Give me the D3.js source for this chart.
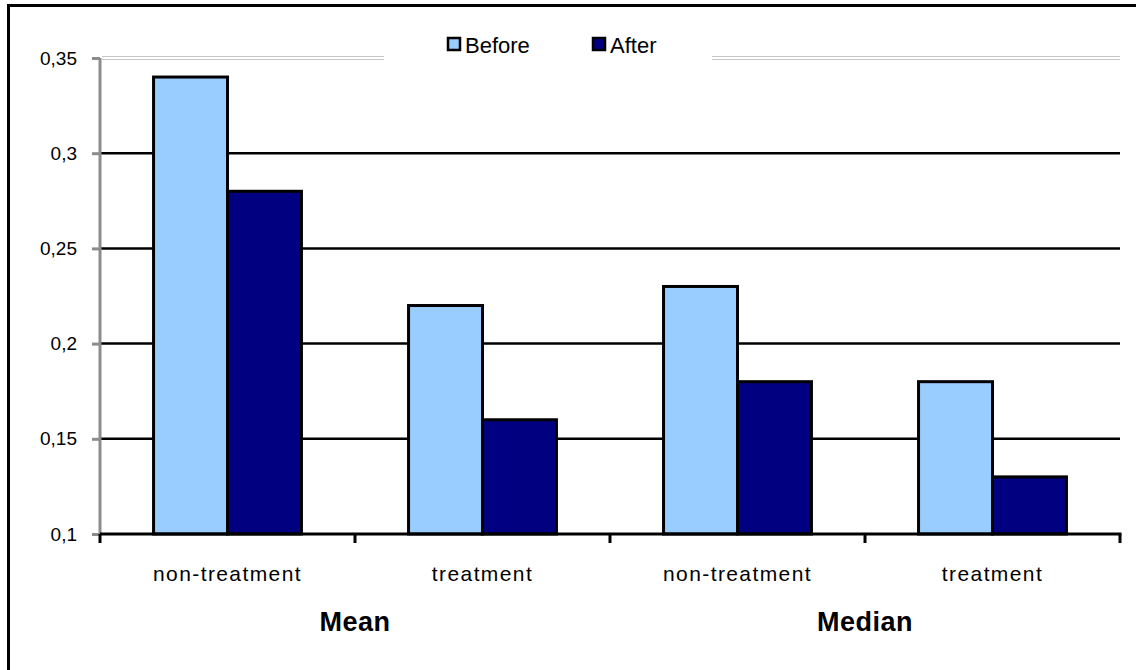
<!DOCTYPE html>
<html>
<head>
<meta charset="utf-8">
<script src="https://cdn.jsdelivr.net/npm/d3@7"></script>
<style>
  html, body { margin: 0; padding: 0; background: #fff; }
  svg { display: block; font-family: "Liberation Sans", Arial, sans-serif; }
</style>
</head>
<body>
<svg id="chart" width="1136" height="670"></svg>
<script>
// Category labels, grouped by statistic
const categories = ["non-treatment", "treatment", "non-treatment", "treatment"];
const groups = ["Mean", "Median"];
const series = ["Before", "After"];
const beforeValues = [0.34, 0.22, 0.23, 0.18];
const afterValues = [0.28, 0.16, 0.18, 0.13];
const yTicks = [0.1, 0.15, 0.2, 0.25, 0.3, 0.35];
const colors = ["#99CCFF", "#000080"];

const svg = d3.select("#chart");
const plot = { left: 100, right: 1120, top: 58, bottom: 534 };

// Outer frame (only the top and left edges fall inside the canvas)
svg.append("rect")
  .attr("x", 8.5).attr("y", 5.5)
  .attr("width", 1140).attr("height", 680)
  .attr("fill", "none").attr("stroke", "#000").attr("stroke-width", 3);

const x = d3.scaleBand()
  .domain(d3.range(categories.length))
  .range([plot.left, plot.right])
  .paddingInner(0.42)
  .paddingOuter(0.21);

const xSub = d3.scaleBand()
  .domain(series)
  .range([0, x.bandwidth()]);

const y = d3.scaleLinear()
  .domain([0.1, 0.35])
  .range([plot.bottom, plot.top]);

const fmt = v => d3.format(".2~f")(v).replace(".", ",");

// Horizontal gridlines (top one is a light double rule)
yTicks.slice(1, -1).forEach(t => {
  svg.append("line")
    .attr("x1", plot.left).attr("x2", plot.right)
    .attr("y1", y(t)).attr("y2", y(t))
    .attr("stroke", "#000").attr("stroke-width", 2.5);
});
[-1.5, 1.5].forEach(off => {
  svg.append("line")
    .attr("x1", plot.left + 2).attr("x2", plot.right)
    .attr("y1", y(0.35) + off).attr("y2", y(0.35) + off)
    .attr("stroke", "#c8c8c8").attr("stroke-width", 1);
});

// Bars
const data = categories.map((c, i) => ({ i, values: [beforeValues[i], afterValues[i]] }));
const cat = svg.append("g").selectAll("g")
  .data(data).join("g")
  .attr("transform", d => `translate(${x(d.i)},0)`);

cat.selectAll("rect")
  .data(d => d.values.map((v, k) => ({ key: series[k], v, k })))
  .join("rect")
  .attr("x", d => xSub(d.key))
  .attr("width", xSub.bandwidth())
  .attr("y", d => y(d.v))
  .attr("height", d => y(0.1) - y(d.v))
  .attr("fill", d => colors[d.k])
  .attr("stroke", "#000")
  .attr("stroke-width", 3);

// Y axis
const yAxis = svg.append("g")
  .attr("transform", `translate(${plot.left},0)`)
  .call(d3.axisLeft(y).tickValues(yTicks).tickFormat(fmt).tickSize(8).tickPadding(15));
yAxis.select(".domain").attr("stroke", "#8c8c8c").attr("stroke-width", 3)
  .attr("d", `M0,${plot.top}V${plot.bottom}`);
yAxis.selectAll(".tick line").attr("stroke", "#8c8c8c").attr("stroke-width", 3);
yAxis.selectAll(".tick text")
  .attr("fill", "#000")
  .attr("font-size", 19)
  .attr("font-family", "Liberation Sans, Arial, sans-serif");

// X axis with ticks on category boundaries
svg.append("line")
  .attr("x1", plot.left).attr("x2", plot.right + 1.5)
  .attr("y1", plot.bottom).attr("y2", plot.bottom)
  .attr("stroke", "#000").attr("stroke-width", 3);
const step = x.step();
d3.range(categories.length + 1).forEach(k => {
  const bx = plot.left + k * step;
  svg.append("line")
    .attr("x1", bx).attr("x2", bx)
    .attr("y1", plot.bottom).attr("y2", plot.bottom + 9)
    .attr("stroke", "#000").attr("stroke-width", 3);
});

// Category labels
svg.append("g").selectAll("text")
  .data(categories).join("text")
  .attr("x", (d, i) => x(i) + x.bandwidth() / 2)
  .attr("y", 581)
  .attr("text-anchor", "middle")
  .attr("font-size", 21)
  .attr("letter-spacing", 1.4)
  .text(d => d);

// Group labels
svg.append("g").selectAll("text")
  .data(groups).join("text")
  .attr("x", (d, g) => plot.left + (2 * g + 1) * step)
  .attr("y", 631)
  .attr("text-anchor", "middle")
  .attr("font-size", 27)
  .attr("font-weight", "bold")
  .attr("letter-spacing", 0.5)
  .text(d => d);

// Legend
const legend = svg.append("g");
legend.append("rect")
  .attr("x", 384).attr("y", 26).attr("width", 328).attr("height", 44)
  .attr("fill", "#fff");
const legendX = [447, 592];
series.forEach((s, k) => {
  legend.append("rect")
    .attr("x", legendX[k] + 1).attr("y", 38)
    .attr("width", 12).attr("height", 12)
    .attr("fill", colors[k]).attr("stroke", "#000").attr("stroke-width", 2.5);
  legend.append("text")
    .attr("x", legendX[k] + 18).attr("y", 53)
    .attr("font-size", 22)
    .text(s);
});
</script>
</body>
</html>
